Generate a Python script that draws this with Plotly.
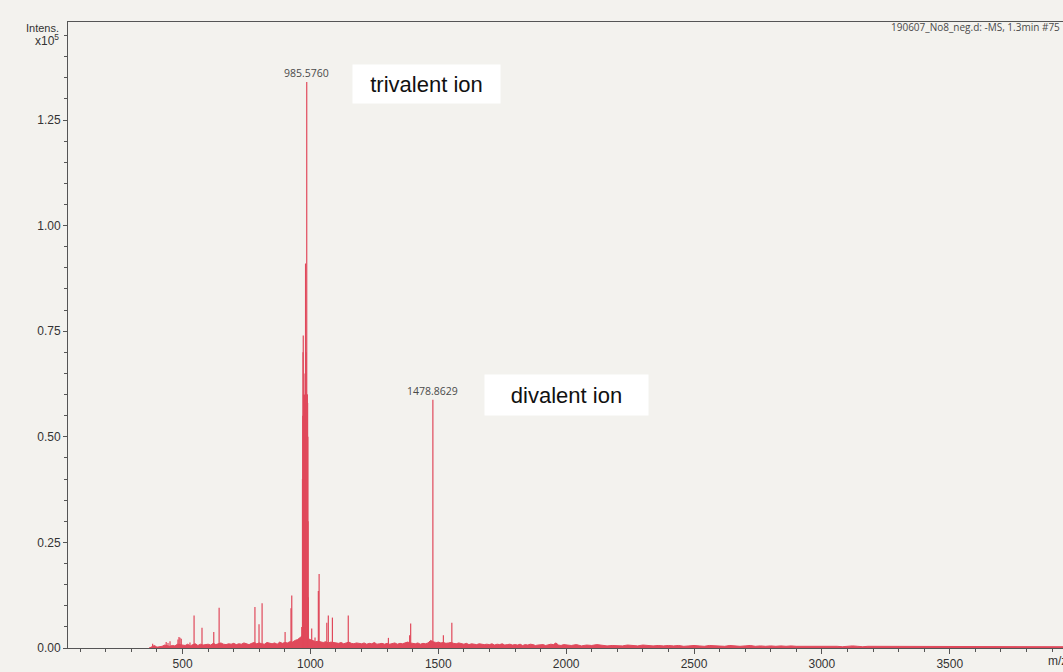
import numpy as np
import plotly.graph_objects as go

# ---- spectrum data (intensity in units of 1e5) ----
# resolved peaks: m/z and intensity
peak_mz = [383, 436, 443, 451, 482, 486, 490, 495, 529, 545, 576, 622, 643,
           783, 799, 811, 901, 924, 927,
           966, 969, 970, 971, 972, 973, 975, 977, 979, 981, 983, 985.5760,
           987, 988, 989, 990, 991, 992,
           1005, 1018, 1031, 1034, 1064, 1070, 1086, 1148, 1305,
           1388, 1392, 1478.8629, 1487, 1510, 1520, 1553, 1967]
peak_int = [0.010, 0.014, 0.012, 0.016, 0.020, 0.026, 0.024, 0.022, 0.013, 0.077, 0.048, 0.038, 0.095,
            0.097, 0.056, 0.106, 0.038, 0.094, 0.124,
            0.05, 0.40, 0.55, 0.70, 0.74, 0.60, 0.55, 0.60, 0.65, 0.91, 0.70, 1.34,
            0.60, 0.60, 0.58, 0.50, 0.30, 0.12,
            0.046, 0.025, 0.135, 0.175, 0.060, 0.077, 0.072, 0.077, 0.024,
            0.030, 0.058, 0.588, 0.015, 0.010, 0.030, 0.060, 0.006]

# baseline noise, 380-1990 every 10 m/z (units of 1e-3 x 1e5)
noise_fine_start, noise_fine_step = 380, 10
noise_fine = [3, 6, 2, 3, 4, 7, 5, 4, 6, 5, 9, 8,
              7, 6, 9, 5, 8, 10, 6, 9, 7, 8,
              9, 7, 11, 8, 10, 12, 9, 8, 10, 9,
              11, 8, 10, 9, 12, 10, 8, 11, 13, 10,
              12, 10, 9, 13, 11, 10, 12, 9, 14, 11,
              13, 12, 15, 14, 18, 20, 25, 30, 28, 22,
              20, 18, 15, 16, 14, 13, 15, 12, 14, 13,
              12, 11, 13, 10, 12, 14, 11, 10, 12, 11,
              10, 12, 9, 11, 10, 13, 9, 10, 11, 9,
              11, 9, 10, 12, 9, 11, 10, 12, 14, 12,
              11, 10, 12, 9, 11, 10, 12, 18, 15, 12,
              14, 12, 13, 11, 12, 13, 11, 10, 12, 10,
              9, 11, 8, 10, 9, 8, 10, 9, 8, 9,
              8, 10, 7, 9, 8, 10, 7, 8, 9, 7,
              8, 7, 9, 6, 8, 7, 9, 8, 6, 7,
              7, 8, 6, 7, 9, 8, 12, 7, 6, 8]
# baseline noise, 2000-3940 every 20 m/z
noise_coarse_start, noise_coarse_step = 2000, 20
noise_coarse = [7, 6, 8, 5, 7, 6, 8, 7, 5, 6,
                6, 5, 7, 6, 5, 7, 6, 5, 6, 5,
                6, 5, 6, 4, 5, 6, 5, 4, 6, 5,
                5, 4, 6, 5, 4, 5, 6, 4, 5, 4,
                5, 4, 5, 4, 5, 4, 4, 5, 4, 4,
                4, 5, 4, 4, 3, 4, 5, 4, 3, 4,
                4, 3, 4, 4, 3, 4, 3, 4, 3, 4,
                3, 4, 3, 3, 4, 3, 3, 4, 3, 3,
                3, 3, 4, 3, 3, 3, 4, 3, 3, 3,
                3, 3, 3, 4, 3, 3, 3, 3]

labelled_peaks = [985.5760, 1478.8629]
x_ticks = [500, 1000, 1500, 2000, 2500, 3000, 3500]
y_ticks = [0.00, 0.25, 0.50, 0.75, 1.00, 1.25]

X_RANGE = [52, 3943]
Y_RANGE = [0, 1.482]
RED = "#e0495b"
AXIS = "#555555"
PAPER = "#f3f2ee"

# noise band, drawn as a jagged filled trace
noise_mz = list(noise_fine_start + noise_fine_step * np.arange(len(noise_fine))) + \
           list(noise_coarse_start + noise_coarse_step * np.arange(len(noise_coarse)))
noise_int = [v / 1000 for v in noise_fine] + [v / 1000 for v in noise_coarse]

stick_x, stick_y = [], []
for m, h in zip(peak_mz, peak_int):
    stick_x += [m, m, None]
    stick_y += [0, h, None]

fig = go.Figure()
fig.add_trace(go.Scatter(x=[370] + noise_mz + [X_RANGE[1]],
                         y=[0] + noise_int + [0.003],
                         mode="lines", fill="tozeroy", fillcolor=RED,
                         line=dict(color=RED, width=1), hoverinfo="skip"))
fig.add_trace(go.Scatter(x=[370, X_RANGE[1]], y=[0, 0], mode="lines",
                         line=dict(color=RED, width=1.6), hoverinfo="skip"))
fig.add_trace(go.Scatter(x=stick_x, y=stick_y, mode="lines",
                         line=dict(color=RED, width=1.2), hoverinfo="skip"))

# peak m/z labels
for pm in labelled_peaks:
    h = peak_int[peak_mz.index(pm)]
    fig.add_annotation(x=pm, y=h, xref="x", yref="y", text=f"{pm:.4f}",
                       showarrow=False, yanchor="bottom", yshift=0,
                       font=dict(family="Open Sans", size=10.5, color="#4a4a4a"))

L, T, B = 68, 22, 24
W, H = 1063, 672
plot_w, plot_h = W - L, H - T - B


def px(xp, yp):
    return (xp - L) / plot_w, (H - B - yp) / plot_h


# text boxes naming the ions
for text, cx, cy, bw, bh in [("trivalent ion", 426.5, 84, 147, 38),
                             ("divalent ion", 566.5, 395, 163, 40)]:
    ax_, ay_ = px(cx, cy)
    fig.add_annotation(x=ax_, y=ay_, xref="paper", yref="paper", text=text,
                       showarrow=False, xanchor="center", yanchor="middle",
                       width=bw, height=bh, bgcolor="white", borderpad=0,
                       font=dict(family="Liberation Sans", size=22, color="#111111"))

# axis captions
ix, iy = px(61, 28)
fig.add_annotation(x=ix, y=iy, xref="paper", yref="paper", text="Intens.",
                   showarrow=False, xanchor="right", yanchor="middle",
                   font=dict(family="Liberation Sans", size=11, color="#333333"))
ix, iy = px(61, 40)
fig.add_annotation(x=ix, y=iy, xref="paper", yref="paper", text="x10<sup>5</sup>",
                   showarrow=False, xanchor="right", yanchor="middle",
                   font=dict(family="Liberation Sans", size=12, color="#333333"))
ix, iy = px(1046, 661)
fig.add_annotation(x=ix, y=iy, xref="paper", yref="paper", text="m/z",
                   showarrow=False, xanchor="left", yanchor="middle",
                   font=dict(family="Liberation Sans", size=12, color="#333333"))
ix, iy = px(889, 27)
fig.add_annotation(x=ix, y=iy, xref="paper", yref="paper",
                   text="190607_No8_neg.d: -MS, 1.3min #75",
                   showarrow=False, xanchor="left", yanchor="middle",
                   font=dict(family="Open Sans", size=10, color="#4a4a4a"))

fig.update_layout(
    width=W, height=H,
    margin=dict(l=L, r=0, t=T, b=B, pad=0),
    paper_bgcolor=PAPER, plot_bgcolor=PAPER,
    showlegend=False,
    xaxis=dict(range=X_RANGE, tickvals=x_ticks, ticktext=[str(t) for t in x_ticks],
               showgrid=False, zeroline=False, showline=True, linecolor=AXIS,
               linewidth=1, mirror=True, ticks="outside", ticklen=5, tickcolor=AXIS,
               minor=dict(dtick=100, tick0=0, ticks="outside", ticklen=3, tickcolor=AXIS),
               tickfont=dict(family="Liberation Sans", size=12, color="#333333")),
    yaxis=dict(range=Y_RANGE, tickvals=y_ticks, ticktext=[f"{t:.2f}" for t in y_ticks],
               showgrid=False, zeroline=False, showline=True, linecolor=AXIS,
               linewidth=1, ticks="outside", ticklen=4, tickcolor=AXIS,
               minor=dict(dtick=0.05, tick0=0, ticks="outside", ticklen=3, tickcolor=AXIS),
               tickfont=dict(family="Liberation Sans", size=12, color="#333333")),
)

fig.write_html("out.html")
